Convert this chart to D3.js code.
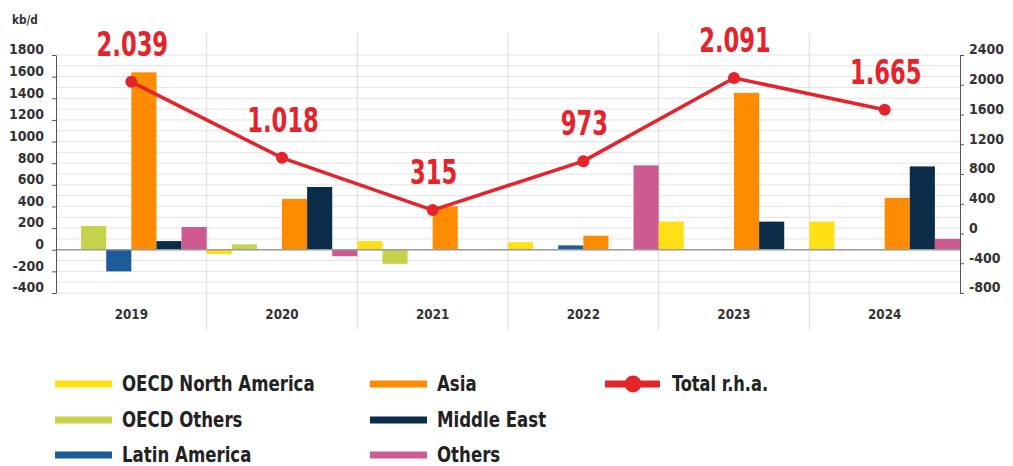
<!DOCTYPE html>
<html>
<head>
<meta charset="utf-8">
<script src="https://cdn.jsdelivr.net/npm/d3@7"></script>
<style>
  html, body { margin: 0; padding: 0; background: #fff; }
  svg { display: block; }
  .narrow { font-family: "DejaVu Sans Condensed", "DejaVu Sans", sans-serif; font-weight: bold; }
</style>
</head>
<body>
<svg id="chart" width="1013" height="466"></svg>
<script>
// Oil demand growth by region (kb/d) with total on the right-hand axis
const years = ["2019", "2020", "2021", "2022", "2023", "2024"];
const seriesNames = ["OECD North America", "OECD Others", "Latin America", "Asia", "Middle East", "Others"];
const oecdNorthAmerica = [0, -40, 80, 70, 260, 260];
const oecdOthers       = [220, 50, -130, 0, 0, 0];
const latinAmerica     = [-200, 0, 0, 40, 0, 0];
const asia             = [1640, 470, 400, 130, 1450, 480];
const middleEast       = [80, 580, 0, 0, 260, 770];
const others           = [210, -60, 0, 780, 0, 100];
const total            = [2039, 1018, 315, 973, 2091, 1665];
const totalLabels      = ["2.039", "1.018", "315", "973", "2.091", "1.665"];
const leftTicks  = [-400, -200, 0, 200, 400, 600, 800, 1000, 1200, 1400, 1600, 1800];
const rightTicks = [-800, -400, 0, 400, 800, 1200, 1600, 2000, 2400];

const seriesValues = [oecdNorthAmerica, oecdOthers, latinAmerica, asia, middleEast, others];
const colors = ["#FFE015", "#C6D249", "#1D5B9B", "#FF8C00", "#0C2D4A", "#CE5A92"];
const red = "#E5232A";

const svg = d3.select("#chart");
const plotLeft = 56, plotRight = 960, plotTop = 55, plotBottom = 293;

const x0 = d3.scaleBand().domain(years).range([plotLeft, plotRight]).padding(0);
const x1 = d3.scaleBand().domain(seriesNames).range([0, x0.bandwidth()]).padding(0);
const yL = d3.scaleLinear().domain([-400, 1800]).range([plotBottom, plotTop]);
const yR = d3.scaleLinear().domain([-800, 2400]).range([plotBottom, plotTop]);
const plainNumber = d => String(d);

// condensed bold text: anchored at (x, y), squeezed horizontally by sx
function label(parent, x, y, txt, opts) {
  const g = parent.append("g")
    .attr("transform", `translate(${x},${y}) scale(${opts.sx || 1},1)`);
  return g.append("text")
    .attr("class", "narrow")
    .attr("text-anchor", opts.anchor || "start")
    .attr("dy", opts.dy || 0)
    .attr("font-size", opts.size)
    .attr("fill", opts.fill || "#222")
    .text(txt);
}

// light horizontal grid every 100 kb/d
svg.append("g")
  .selectAll("line")
  .data(d3.range(-400, 1801, 100))
  .join("line")
  .attr("x1", plotLeft).attr("x2", plotRight)
  .attr("y1", d => yL(d)).attr("y2", d => yL(d))
  .attr("stroke", "#e4e4e4").attr("stroke-width", 1);

// vertical separators between years
svg.append("g")
  .selectAll("line")
  .data(years.slice(1))
  .join("line")
  .attr("x1", d => x0(d)).attr("x2", d => x0(d))
  .attr("y1", 33).attr("y2", 330)
  .attr("stroke", "#dcdcdc").attr("stroke-width", 1);

// bars
const barData = [];
years.forEach((yr, i) => {
  seriesNames.forEach((s, j) => {
    barData.push({ year: yr, series: s, value: seriesValues[j][i], color: colors[j] });
  });
});
svg.append("g")
  .selectAll("rect")
  .data(barData.filter(d => d.value !== 0))
  .join("rect")
  .attr("x", d => x0(d.year) + x1(d.series))
  .attr("width", x1.bandwidth())
  .attr("y", d => yL(Math.max(0, d.value)))
  .attr("height", d => Math.abs(yL(d.value) - yL(0)))
  .attr("fill", d => d.color);

// zero line
svg.append("line")
  .attr("x1", plotLeft).attr("x2", plotRight)
  .attr("y1", yL(0)).attr("y2", yL(0))
  .attr("stroke", "#9a9a9a").attr("stroke-width", 1.5);

// left axis
const axL = svg.append("g")
  .attr("transform", `translate(${plotLeft},0)`)
  .call(d3.axisLeft(yL).tickValues(leftTicks).tickFormat(plainNumber)
    .tickSize(4).tickPadding(8).tickSizeOuter(0));
axL.select(".domain").attr("stroke", "#555");
axL.selectAll(".tick line").attr("stroke", "#555");
axL.selectAll("text")
  .attr("class", "narrow").attr("fill", "#333")
  .attr("font-size", 14).attr("dy", "-0.08em");

// right axis
const axR = svg.append("g")
  .attr("transform", `translate(${plotRight},0)`)
  .call(d3.axisRight(yR).tickValues(rightTicks).tickFormat(plainNumber)
    .tickSize(4).tickPadding(5).tickSizeOuter(0));
axR.select(".domain").attr("stroke", "#555");
axR.selectAll(".tick line").attr("stroke", "#555");
axR.selectAll("text")
  .attr("class", "narrow").attr("fill", "#333")
  .attr("font-size", 14).attr("dy", "-0.08em");

// unit label
label(svg, 12, 24, "kb/d", { size: 13, fill: "#333", sx: 0.9 });

// year labels
years.forEach(yr => {
  label(svg, x0(yr) + x0.bandwidth() / 2, 319, yr, { size: 14, fill: "#333", anchor: "middle", sx: 0.95 });
});

// total line on the right-hand axis
const cx = d => x0(d) + x0.bandwidth() / 2;
const pts = years.map((yr, i) => ({ year: yr, value: total[i], label: totalLabels[i] }));
svg.append("path")
  .datum(pts)
  .attr("fill", "none")
  .attr("stroke", red)
  .attr("stroke-width", 3.5)
  .attr("stroke-linejoin", "round")
  .attr("d", d3.line().x(d => cx(d.year)).y(d => yR(d.value)));
svg.append("g")
  .selectAll("circle")
  .data(pts)
  .join("circle")
  .attr("cx", d => cx(d.year)).attr("cy", d => yR(d.value))
  .attr("r", 6).attr("fill", red);
pts.forEach(p => {
  label(svg, cx(p.year) + 1, yR(p.value) - 26, p.label,
    { size: 34, fill: red, anchor: "middle", sx: 0.74 });
});

// legend
const legendItems = [
  { name: "OECD North America", color: colors[0], x: 55,  y: 384 },
  { name: "OECD Others",        color: colors[1], x: 55,  y: 420 },
  { name: "Latin America",      color: colors[2], x: 55,  y: 455 },
  { name: "Asia",               color: colors[3], x: 370, y: 384 },
  { name: "Middle East",        color: colors[4], x: 370, y: 420 },
  { name: "Others",             color: colors[5], x: 370, y: 455 }
];
const lg = svg.append("g");
legendItems.forEach(it => {
  lg.append("line")
    .attr("x1", it.x).attr("x2", it.x + 57)
    .attr("y1", it.y).attr("y2", it.y)
    .attr("stroke", it.color).attr("stroke-width", 7);
  label(lg, it.x + 67, it.y, it.name, { size: 22, fill: "#222", dy: "0.3em", sx: 0.84 });
});
lg.append("line")
  .attr("x1", 605).attr("x2", 660).attr("y1", 384).attr("y2", 384)
  .attr("stroke", red).attr("stroke-width", 7);
lg.append("circle").attr("cx", 633).attr("cy", 384).attr("r", 8.5).attr("fill", red);
label(lg, 672, 384, "Total r.h.a.", { size: 22, fill: "#222", dy: "0.3em", sx: 0.82 });
</script>
</body>
</html>
